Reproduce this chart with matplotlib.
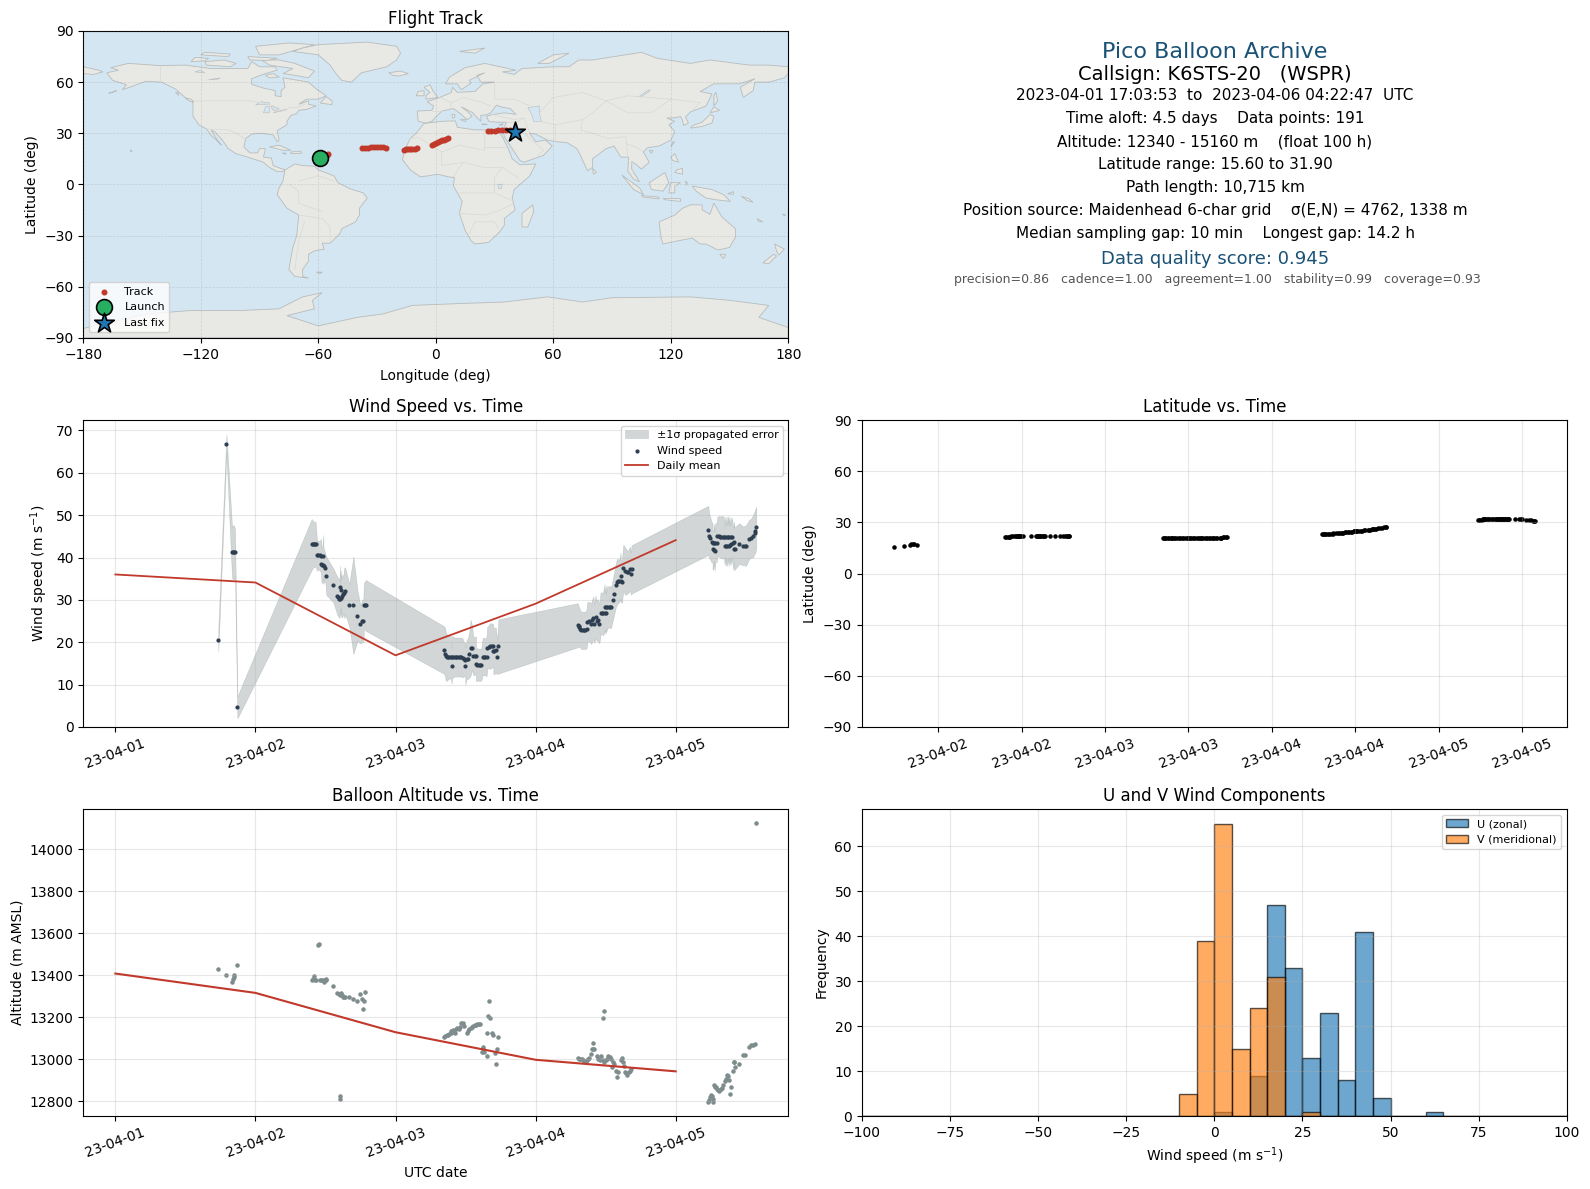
#!/usr/bin/env python3
# Pico balloon flight summary, K6STS-20
from datetime import datetime

import numpy as np
import matplotlib
matplotlib.use('Agg')
import matplotlib.pyplot as plt
import matplotlib.dates as mdates
from matplotlib.patches import Polygon

# ---- flight data, time in days after 2023-04-01 00:00 ----
wind_t = [0.735, 0.793, 0.833, 0.840, 0.847, 0.854, 0.871,
          1.402, 1.409, 1.416, 1.423, 1.430, 1.439, 1.449, 1.459, 1.468, 1.471,
          1.478, 1.485, 1.485, 1.492, 1.499, 1.506, 1.556, 1.585, 1.592, 1.599,
          1.606, 1.606, 1.613, 1.613, 1.620, 1.628, 1.635, 1.642, 1.670, 1.699,
          1.728, 1.749, 1.763, 1.770, 1.775, 1.782, 1.787,
          2.349, 2.356, 2.358, 2.365, 2.375, 2.384, 2.394, 2.401, 2.403, 2.413,
          2.422, 2.432, 2.441, 2.451, 2.460, 2.470, 2.479, 2.489, 2.498, 2.498,
          2.508, 2.517, 2.527, 2.536, 2.546, 2.555, 2.565, 2.574, 2.574, 2.584,
          2.593, 2.603, 2.612, 2.622, 2.631, 2.641, 2.650, 2.655, 2.665, 2.674,
          2.688, 2.698, 2.698, 2.705, 2.715, 2.727, 2.734,
          3.300, 3.307, 3.312, 3.319, 3.326, 3.336, 3.345, 3.355, 3.364, 3.369,
          3.383, 3.397, 3.405, 3.412, 3.419, 3.428, 3.436, 3.445, 3.455, 3.464,
          3.474, 3.483, 3.493, 3.493, 3.502, 3.502, 3.512, 3.521, 3.531, 3.540,
          3.550, 3.559, 3.573, 3.581, 3.588, 3.597, 3.607, 3.607, 3.616, 3.626,
          3.638, 3.650, 3.661, 3.673, 3.681, 3.685,
          4.232, 4.240, 4.247, 4.256, 4.263, 4.263, 4.270, 4.273, 4.278, 4.282,
          4.292, 4.297, 4.306, 4.316, 4.325, 4.335, 4.344, 4.349, 4.354, 4.358,
          4.363, 4.368, 4.373, 4.378, 4.382, 4.387, 4.392, 4.397, 4.401, 4.406,
          4.413, 4.416, 4.420, 4.454, 4.478, 4.492, 4.501, 4.525, 4.539, 4.551,
          4.563, 4.568, 4.575]

wind_speed = [20.6, 66.9, 41.2, 41.2, 41.2, 41.2, 4.6,
              43.1, 43.1, 43.1, 43.1, 43.1, 40.5, 40.5, 40.5, 40.4, 38.4,
              38.3, 40.3, 38.2, 38.0, 37.6, 35.7, 33.4, 30.9, 30.6, 30.2,
              33.1, 30.1, 32.4, 30.4, 30.9, 31.3, 31.7, 32.0, 28.7, 28.7,
              26.3, 24.2, 25.1, 25.1, 28.7, 28.7, 28.7,
              18.1, 17.3, 16.7, 16.4, 16.4, 16.4, 16.5, 14.4, 16.5, 16.5,
              16.5, 16.5, 16.5, 16.5, 16.5, 16.5, 16.3, 16.0, 15.8, 14.4,
              16.0, 16.1, 17.1, 18.7, 18.7, 16.8, 16.8, 16.8, 14.8, 14.7,
              14.7, 14.7, 14.7, 16.6, 16.6, 16.6, 16.6, 18.7, 18.9, 19.1,
              19.2, 19.2, 18.0, 17.9, 18.1, 16.5, 19.0,
              24.0, 23.8, 23.5, 23.1, 22.8, 22.8, 22.8, 22.8, 23.2, 24.7,
              24.9, 24.4, 25.2, 25.8, 24.4, 26.0, 25.0, 25.2, 24.4, 26.8,
              26.8, 26.8, 28.3, 26.8, 28.3, 26.8, 28.3, 28.3, 28.3, 28.3,
              29.9, 31.3, 33.5, 34.3, 34.4, 34.5, 35.7, 34.5, 34.3, 37.6,
              36.8, 36.6, 36.6, 37.4, 36.2, 37.2,
              46.4, 45.0, 44.5, 43.6, 43.5, 41.9, 41.7, 43.5, 41.6, 43.5,
              43.5, 45.0, 45.0, 44.9, 44.8, 44.8, 44.8, 42.8, 44.8, 42.8,
              44.8, 42.8, 44.8, 42.8, 44.8, 42.9, 44.8, 43.1, 44.8, 43.4,
              41.9, 43.7, 42.1, 43.3, 42.8, 42.8, 42.8, 44.3, 44.6, 45.0,
              45.9, 46.2, 47.1]

wind_err = [2.8, 2.2, 6.0, 6.4, 6.4, 5.5, 2.6,
            6.0, 5.6, 5.4, 5.3, 5.3, 3.6, 3.4, 3.4, 4.0, 4.0,
            4.4, 5.0, 4.4, 3.6, 3.3, 4.5, 4.0, 4.5, 4.5, 4.5,
            5.0, 4.0, 4.5, 4.5, 5.0, 4.5, 6.0, 5.5, 5.0, 11.5,
            6.0, 4.5, 5.0, 5.0, 5.5, 5.5, 6.0,
            5.6, 5.8, 5.8, 5.5, 5.2, 5.0, 5.0, 4.2, 5.0, 4.8,
            4.6, 4.6, 4.6, 4.6, 4.6, 4.6, 4.6, 4.0, 4.0, 4.4,
            4.6, 4.8, 5.4, 6.6, 5.2, 4.6, 4.4, 4.6, 4.0, 3.8,
            3.8, 3.8, 3.8, 4.4, 4.4, 4.4, 4.6, 5.0, 5.0, 5.4,
            5.2, 5.0, 5.6, 5.4, 5.4, 4.0, 6.4,
            5.2, 4.8, 4.6, 4.4, 4.4, 4.4, 4.4, 4.4, 4.6, 4.8,
            4.6, 4.8, 5.0, 5.0, 4.6, 5.0, 4.6, 5.0, 4.6, 5.0,
            4.8, 5.2, 5.4, 4.8, 5.0, 4.6, 5.0, 4.8, 5.0, 4.8,
            4.8, 5.0, 5.2, 5.4, 5.2, 5.0, 5.4, 5.0, 5.0, 5.4,
            5.6, 5.2, 5.0, 5.2, 5.0, 5.7,
            5.8, 5.2, 5.0, 4.8, 4.6, 4.6, 4.6, 4.4, 4.6, 4.6,
            4.6, 4.6, 4.8, 4.8, 5.0, 5.0, 4.8, 4.6, 4.8, 4.8,
            5.0, 4.8, 5.0, 4.8, 4.8, 4.6, 4.8, 4.8, 4.6, 4.8,
            5.0, 4.8, 5.0, 4.8, 4.6, 4.6, 4.8, 4.6, 4.6, 5.0,
            5.0, 5.2, 4.8]

lat_deg = [15.6, 16.4, 17.0, 17.2, 17.2, 17.1, 17.0,
           21.4, 21.5, 21.6, 21.7, 21.7, 21.8, 21.9, 21.9, 22.0, 22.0,
           21.9, 22.0, 21.9, 22.0, 22.0, 21.9, 21.9, 21.9, 22.0, 22.0,
           22.0, 22.0, 21.9, 21.9, 21.9, 21.9, 21.9, 21.8, 21.8, 21.8,
           21.9, 21.8, 21.9, 21.9, 21.9, 21.9, 21.8,
           20.9, 20.9, 20.8, 20.8, 20.8, 20.7, 20.7, 20.7, 20.7, 20.7,
           20.7, 20.7, 20.7, 20.7, 20.7, 20.7, 20.7, 20.7, 20.7, 20.7,
           20.7, 20.7, 20.7, 20.7, 20.7, 20.7, 20.7, 20.7, 20.7, 20.7,
           20.7, 20.8, 20.8, 20.8, 20.8, 20.8, 20.8, 20.8, 20.9, 20.9,
           20.9, 21.0, 21.0, 21.2, 21.4, 21.5, 21.5,
           22.9, 23.0, 23.0, 23.1, 23.1, 23.2, 23.3, 23.4, 23.4, 23.5,
           23.6, 23.7, 23.8, 23.8, 23.9, 24.0, 24.1, 24.2, 24.3, 24.4,
           24.5, 24.6, 24.7, 24.7, 24.8, 24.8, 24.9, 25.0, 25.1, 25.2,
           25.3, 25.5, 25.6, 25.7, 25.8, 25.9, 26.1, 26.1, 26.2, 26.3,
           26.5, 26.6, 26.8, 27.0, 27.1, 27.2,
           31.2, 31.4, 31.5, 31.6, 31.7, 31.7, 31.7, 31.8, 31.8, 31.8,
           31.8, 31.8, 31.9, 31.9, 31.9, 31.9, 31.9, 31.9, 31.9, 31.9,
           31.9, 31.9, 31.9, 31.9, 31.9, 31.9, 31.9, 31.9, 31.9, 31.9,
           31.9, 31.9, 31.8, 31.8, 31.7, 31.7, 31.7, 31.5, 31.4, 31.1,
           31.0, 31.0, 31.0]

alt_t = [0.735, 0.793, 0.835, 0.840, 0.845, 0.850, 0.871,
         1.402, 1.409, 1.416, 1.423, 1.430, 1.444, 1.451, 1.461, 1.471, 1.480,
         1.490, 1.494, 1.501, 1.506, 1.556, 1.585, 1.594, 1.601, 1.606, 1.606,
         1.613, 1.620, 1.628, 1.635, 1.642, 1.670, 1.699, 1.728, 1.749, 1.763,
         1.770, 1.777, 1.785,
         2.349, 2.356, 2.365, 2.374, 2.384, 2.393, 2.398, 2.408, 2.417, 2.427,
         2.432, 2.441, 2.451, 2.460, 2.470, 2.479, 2.489, 2.512, 2.517, 2.527,
         2.536, 2.546, 2.555, 2.565, 2.574, 2.584, 2.593, 2.603, 2.615, 2.622,
         2.627, 2.634, 2.650, 2.655, 2.662, 2.669, 2.674, 2.686, 2.698, 2.710,
         2.719, 2.727, 2.734,
         3.300, 3.309, 3.319, 3.328, 3.338, 3.347, 3.357, 3.364, 3.374, 3.383,
         3.393, 3.400, 3.407, 3.412, 3.416, 3.435, 3.447, 3.459, 3.469, 3.478,
         3.483, 3.488, 3.490, 3.500, 3.509, 3.519, 3.528, 3.538, 3.542, 3.550,
         3.559, 3.573, 3.583, 3.590, 3.607, 3.614, 3.621, 3.628, 3.635, 3.645,
         3.654, 3.664, 3.673, 3.683,
         4.232, 4.240, 4.244, 4.251, 4.261, 4.268, 4.268, 4.275, 4.282, 4.287,
         4.292, 4.301, 4.311, 4.320, 4.328, 4.340, 4.351, 4.358, 4.363, 4.370,
         4.380, 4.389, 4.397, 4.406, 4.416, 4.418, 4.425, 4.454, 4.482, 4.494,
         4.525, 4.539, 4.554, 4.566, 4.575]

alt_m = [13429, 13400, 13367, 13383, 13392, 13400, 13448,
         13376, 13384, 13397, 13376, 13376, 13543, 13549, 13376, 13376, 13376,
         13370, 13378, 13384, 13378, 13348, 13317, 13313, 13308, 12825, 12813,
         13317, 13308, 13295, 13295, 13295, 13295, 13286, 13276, 13310, 13286,
         13238, 13276, 13319,
         13106, 13110, 13114, 13117, 13119, 13124, 13133, 13138, 13130, 13124,
         13146, 13148, 13143, 13152, 13175, 13171, 13159, 13127, 13136, 13143,
         13148, 13156, 13159, 13162, 13165, 13167, 13168, 13170, 13035, 13048,
         13060, 13035, 13016, 13124, 13206, 13276, 13197, 13124, 13117, 13032,
         12976, 13048, 13105,
         13006, 13003, 13000, 13003, 12995, 12992, 12987, 12995, 13003, 13006,
         13026, 13047, 13050, 13079, 13050, 13015, 13003, 12995, 13015, 12995,
         13197, 12987, 13231, 12995, 13003, 13015, 13009, 13003, 12963, 12987,
         12979, 12946, 12916, 12939, 12995, 13006, 12987, 12968, 12939, 12936,
         12927, 12939, 12947, 12952,
         12798, 12805, 12821, 12829, 12824, 12810, 12797, 12876, 12868, 12867,
         12860, 12852, 12848, 12857, 12863, 12879, 12895, 12908, 12927, 12920,
         12900, 12836, 12870, 12946, 12987, 12987, 12962, 12979, 13019, 13023,
         13058, 13066, 13069, 13074, 14123]

# daily means at 00 UTC of each date
mean_days = [0, 1, 2, 3, 4]
mean_wind = [36.0, 34.1, 16.9, 29.1, 44.1]
mean_alt = [13408, 13316, 13129, 12998, 12943]

# histogram counts, 5 m/s bins from -100 to 100
bin_edges = list(range(-100, 105, 5))
u_counts = [0] * 20 + [1, 0, 9, 47, 33, 13, 23, 8, 41, 4, 0, 0, 1, 0] + [0] * 6
v_counts = [0] * 18 + [5, 39, 65, 15, 24, 31, 0, 1] + [0] * 14

# ground track
track_lon = [-55.5, -55.0, -37.5, -36.0, -34.5, -33.0, -31.5, -30.0, -28.5, -27.0,
             -25.6, -16.0, -15.0, -14.0, -13.0, -12.0, -10.5, -9.5, -2.0, -1.0,
             0.0, 1.0, 2.0, 3.0, 4.0, 5.0, 6.3, 26.6, 28.0, 30.0, 32.0, 34.0,
             36.0, 38.0, 40.0]
track_lat = [17.2, 17.6, 21.4, 21.5, 21.6, 21.8, 22.0, 22.1, 22.0, 21.8,
             21.6, 20.4, 20.5, 20.6, 20.7, 20.8, 21.0, 21.2, 23.0, 23.6,
             24.2, 24.8, 25.2, 25.8, 26.3, 26.8, 27.4, 31.2, 31.4, 31.6, 31.8, 31.9,
             31.9, 31.8, 31.2]
launch = (-58.9, 15.6)
last_fix = (40.4, 30.5)

# ---- coastlines, lon/lat ----
land = [
    # North America
    [(-168, 65.5), (-162, 67), (-166, 68.5), (-157, 71), (-141, 69.7), (-128, 70), (-115, 68),
     (-108, 68), (-96, 68), (-94, 72), (-90, 69), (-82, 69), (-81, 67), (-87, 65), (-94, 62),
     (-94, 58.7), (-88, 56.5), (-82, 55), (-82, 52), (-79, 51.5), (-79, 55), (-77, 57), (-78, 62.5),
     (-70, 61), (-65, 60), (-61, 56), (-56, 52), (-60, 50), (-66, 50), (-70, 47), (-65, 49), (-65, 47),
     (-61, 46), (-66, 44), (-70, 43.5), (-71, 41.5), (-74, 40.5), (-76, 37), (-76, 35), (-81, 31.5),
     (-80, 26), (-81, 25), (-83, 29), (-89, 30), (-94, 29.5), (-97, 27), (-98, 22), (-95, 18.5),
     (-91, 18.5), (-90, 21), (-87, 21), (-88, 16), (-84, 15.5), (-83, 11), (-79.5, 9.5), (-77, 8.5),
     (-78, 7.5), (-81, 7.5), (-85, 10), (-88, 13), (-92, 14.5), (-96, 16), (-102, 18), (-106, 21),
     (-109, 26), (-113, 31), (-114.8, 31.7), (-111, 25), (-109.5, 23), (-112, 26), (-115, 29),
     (-117, 32.5), (-121, 35), (-124, 40), (-124, 48), (-128, 51), (-133, 56), (-140, 60),
     (-148, 60.5), (-154, 58), (-160, 55.5), (-158, 58.5), (-165, 61)],
    [(-80, 73), (-72, 71), (-62, 66.5), (-65, 62.5), (-72, 64), (-78, 65), (-73, 68), (-85, 70), (-89, 73)],
    [(-117, 70), (-105, 69), (-102, 71), (-108, 73), (-118, 72)],
    [(-90, 76), (-80, 76), (-62, 82), (-75, 83), (-92, 81)],
    [(-125, 72), (-118, 72.5), (-116, 74), (-123, 74.5)],
    [(-96, 75), (-81, 74), (-86, 72.7), (-95, 73)],
    [(-120, 76), (-106, 75), (-105, 76.5), (-118, 77.5)],
    [(-83, 65), (-80, 63), (-85, 62.5), (-87, 64)],
    [(-59, 47.7), (-53, 46.8), (-53, 49), (-56, 51.5)],
    [(-85, 22), (-80, 23), (-74, 20), (-78, 20)],
    [(-74, 19), (-69, 19.5), (-68.5, 18.3), (-74, 18)],
    [(-78.3, 18.4), (-76.3, 18.2), (-77, 17.8)],
    [(-156, 20.2), (-155, 19.7), (-155.7, 19)],
    [(-128, 50.7), (-125, 50), (-123.5, 48.4), (-125.5, 48.8)],
    [(-133, 54), (-131.5, 54), (-131.5, 52.5)],
    [(-167, 53.5), (-163, 55), (-165, 54)],
    # Greenland, Iceland
    [(-73, 78), (-60, 76), (-54, 70), (-51, 65), (-48, 61), (-43, 60), (-38, 65.5), (-25, 69),
     (-20, 73), (-18, 77), (-20, 81), (-35, 83.5), (-60, 82), (-68, 80)],
    [(-24, 65.5), (-18, 66.5), (-14, 65), (-19, 63.5), (-22, 64)],
    # South America
    [(-77, 8.5), (-72, 12), (-68, 11), (-62, 10.7), (-60, 8.5), (-52, 5), (-50, 1), (-44, -2.5), (-37, -5),
     (-35, -8), (-39, -14), (-39, -18), (-41, -22), (-48, -26), (-49, -29), (-54, -34.5), (-58, -34.5),
     (-57, -38), (-62, -39), (-65, -41), (-65, -45), (-68, -50), (-68, -54), (-65, -55), (-72, -54),
     (-75, -50), (-74, -43), (-73, -37), (-71, -30), (-70, -18), (-76, -14), (-81, -6), (-80, -2), (-78, 2)],
    [(-61, -51.5), (-58, -51.5), (-59, -52.3)],
    # Africa
    [(-6, 35.8), (3, 37), (10, 37.3), (11, 33.5), (20, 32), (25, 32), (32, 31), (34, 28), (37, 21),
     (39, 15), (43, 11.5), (51, 12), (48, 5), (40, -3), (39, -8), (40.5, -15), (35, -20), (35, -24),
     (32.5, -28), (27, -34), (20, -35), (18, -33), (15, -27), (12, -17), (13.5, -10), (9, -1), (9.5, 4),
     (6, 4.5), (1, 6), (-4, 5), (-8, 4.5), (-13, 8.5), (-17, 14.5), (-16, 20), (-13, 27), (-10, 30)],
    [(49.5, -12), (50, -16), (47, -25), (44, -25), (44, -17)],
    # Eurasia
    [(-9, 37), (-9.5, 43), (-2, 43.5), (-1, 46), (-4.5, 48.5), (2, 51), (8, 54), (8.5, 57), (11, 54),
     (20, 54.5), (24, 59), (30, 60), (23, 60), (21, 64), (25, 65.5), (17, 61), (18, 59.5), (13, 55.5),
     (11, 59), (5, 59), (7, 63), (15, 68.5), (25, 71), (41, 67), (34, 66), (40, 64.5), (44, 68), (60, 69),
     (68, 69), (73, 73), (80, 73), (105, 77.5), (113, 74), (130, 71), (140, 73), (160, 70), (170, 70),
     (180, 69), (180, 65), (178, 62.5), (170, 60), (163, 60), (162, 55), (157, 51), (155.5, 57), (163, 62),
     (155, 59), (142, 59), (135, 54.5), (141, 53), (138, 46), (130, 42.5), (127.5, 39.5), (129, 36),
     (126.5, 34.5), (126, 37.5), (125, 39.8), (121, 39), (118, 39), (122, 37), (119, 35), (122, 31),
     (120, 26), (114, 22.5), (108, 21.5), (106, 19), (109, 13), (105, 9), (103, 11), (100, 13.5), (100, 9),
     (104, 1.5), (101, 3), (98, 8), (98.5, 16), (94.5, 16), (91, 22.5), (87, 21), (80, 15), (80, 10),
     (77.5, 8), (73, 19), (72, 21), (67, 24.5), (62, 25), (57, 26), (51, 29.5), (48, 30), (51, 25), (56, 26),
     (59.5, 22.5), (55, 17), (45, 13), (43, 14), (39, 21), (35, 28), (34.5, 31.5), (36, 36.5), (31, 36.5),
     (27, 37), (26, 40), (29, 41), (35, 42), (41, 41), (38, 44.5), (33, 45.5), (31, 46.5), (28, 42),
     (26, 40.8), (23, 40.5), (23, 37), (19.5, 41), (19, 42), (13, 45.5), (16, 43), (18.5, 40), (16, 38),
     (12, 42), (9, 44.5), (3, 43), (0, 39.5), (-2, 37), (-5, 36)],
    [(-180, 69), (-172, 67), (-170, 66), (-175, 64.5), (-180, 65)],
    [(-5, 50), (1, 51), (-1.5, 55), (-3, 58.5), (-6, 57), (-3, 54), (-5, 52)],
    [(-10, 52), (-6, 52), (-6, 55), (-9, 54.5)],
    [(12, 78), (25, 80), (20, 77)],
    [(52, 71), (58, 71), (68, 77), (60, 76)],
    [(130, 33), (136, 34), (141, 36), (142, 40), (140, 41), (136, 36.5), (131, 34.5)],
    [(140, 42), (145, 43.5), (142, 45.5)],
    [(142, 46), (144, 49), (143, 54), (142, 52)],
    [(120, 22), (122, 25), (121, 25)],
    [(109, 20), (111, 19.8), (110, 18.3)],
    [(120, 16), (122, 18), (124, 13), (121, 14)],
    [(122, 7), (126, 6), (126, 9.5), (123, 8.5)],
    [(109, 1), (117, 7), (119, 1), (116, -4), (110, -3)],
    [(95, 5.5), (104, -2), (106, -6), (101, -3)],
    [(105, -6.5), (114, -7.5), (114, -8.5), (106, -7.5)],
    [(116, -8.2), (125, -8.4), (125, -10), (117, -9)],
    [(120, 1), (125, 1), (122, -1), (122, -5), (119, -5)],
    [(127.5, 2), (128.5, 1), (128, -0.5)],
    [(131, -1), (141, -3), (147, -6), (150.5, -10), (143, -9), (138, -8), (133, -4)],
    [(149, -5.5), (152, -4.2), (152, -5.8)],
    [(156, -7), (160, -8.5), (162, -10.5), (159, -9.5)],
    [(164, -20), (167, -22), (165, -21.8)],
    [(177, -17.5), (178.6, -17.8), (178, -18.5)],
    [(80, 9.5), (82, 7), (80.5, 6)],
    [(8.2, 41), (9.8, 41), (9.5, 39), (8.5, 39)],
    [(12.5, 38), (15.5, 38), (15, 36.8)],
    [(23.5, 35.5), (26.3, 35.2), (24, 35)],
    [(32.3, 35), (34.5, 35.6), (33.5, 34.6)],
    # Australia and New Zealand
    [(114, -22), (122, -18), (126, -14), (130, -12), (136, -12), (136, -15), (140, -17.5), (142, -11),
     (146, -19), (153, -26), (153, -31), (150, -37), (144, -38.5), (138, -35), (135, -35), (131, -31.5),
     (124, -33), (116, -35), (115, -31)],
    [(145, -41), (148, -41), (147, -43.5)],
    [(173, -35), (178, -38), (175, -41.5), (174, -39)],
    [(172.5, -41), (174, -42), (170, -46.5), (167, -46)],
    # Antarctica
    [(-180, -84.5), (-155, -78), (-148, -76), (-125, -74), (-100, -74), (-80, -73), (-75, -70), (-68, -66),
     (-58, -63.5), (-63, -68), (-62, -73), (-76, -77), (-60, -83), (-40, -78), (-27, -76), (-12, -71),
     (10, -70), (35, -69), (57, -66), (75, -69), (90, -66.5), (130, -66), (150, -68), (170, -71), (165, -78),
     (180, -84), (180, -90), (-180, -90)],
]

lakes = [
    [(47, 45), (53, 46), (53, 41), (54, 37), (50, 37), (49, 41)],
    [(-92, 46.8), (-85, 47), (-85, 48), (-89, 48.5)],
    [(-88, 42), (-85, 42), (-85, 46), (-87, 45.5)],
    [(-84, 46), (-80, 44.5), (-82, 43), (-83.5, 44)],
    [(-83, 42), (-79, 43), (-76, 44), (-79, 43.5)],
    [(-123, 66), (-118, 65.5), (-120, 67)],
    [(-116, 61.5), (-110, 62.5), (-112, 61.5)],
    [(103.7, 51.5), (109, 55.5), (109.5, 55), (105, 51.5)],
    [(31.8, 0), (34, 0.2), (33.5, -2.5), (32, -2.5)],
]

borders = [
    [(-123, 49), (-95, 49), (-89, 48), (-83, 46), (-82, 43), (-79, 43), (-75, 45), (-71, 45), (-67, 47)],
    [(-141, 69.7), (-141, 60)],
    [(-117, 32.5), (-106, 32), (-101, 29.5), (-97, 26)],
    [(-70, -18), (-58, -20), (-54, -25), (-54, -34)],
    [(-72, -50), (-70, -33), (-67, -22)],
    [(-75, 0), (-70, -4), (-70, -11), (-58, -16)],
    [(-70, 2), (-60, 5), (-52, 2)],
    [(-13, 27), (-8.7, 27.5), (3, 19), (12, 23), (25, 20), (25, 32)],
    [(25, 22), (37, 22)],
    [(3, 19), (3, 11), (14, 13), (24, 10), (34, 10), (42, 4)],
    [(14, 13), (9, 4.5)],
    [(12, -5), (30, -5), (40, -10)],
    [(30, -5), (30, 4), (34, 10)],
    [(12, -17), (25, -18), (33, -15), (40, -11)],
    [(17, -29), (20, -22), (30, -22), (32, -26)],
    [(29, 41), (40, 38), (45, 39), (48, 30)],
    [(36, 36), (42, 37), (45, 39)],
    [(28, 46), (24, 48), (14, 51), (8, 48), (7, 44)],
    [(2, 51), (8, 48)],
    [(-2, 43), (3, 43)],
    [(30, 60), (30, 50), (40, 50), (48, 46)],
    [(53, 42), (60, 51), (75, 54), (87, 49), (98, 52), (120, 50), (135, 48), (131, 43)],
    [(87, 49), (80, 42), (75, 38), (61, 35), (61, 25)],
    [(75, 38), (74, 32), (80, 30), (88, 27), (97, 28), (98, 16)],
    [(87, 49), (98, 42), (110, 42), (120, 50)],
    [(61, 35), (53, 37)],
    [(101, 6), (100, 13)],
    [(106, 19), (102, 22), (97, 24)],
    [(46, 29), (55, 20), (52, 17)],
    [(34.5, 31), (40, 32), (47, 29)],
]

info_lines = [
    ('Pico Balloon Archive', 16, '#1a5276', 0.9375),
    ('Callsign: K6STS-20   (WSPR)', 14, 'black', 0.865),
    ('2023-04-01 17:03:53  to  2023-04-06 04:22:47  UTC', 11, 'black', 0.795),
    ('Time aloft: 4.5 days    Data points: 191', 11, 'black', 0.72),
    ('Altitude: 12340 - 15160 m    (float 100 h)', 11, 'black', 0.645),
    ('Latitude range: 15.60 to 31.90', 11, 'black', 0.57),
    ('Path length: 10,715 km', 11, 'black', 0.495),
    ('Position source: Maidenhead 6-char grid    \u03c3(E,N) = 4762, 1338 m', 11, 'black', 0.42),
    ('Median sampling gap: 10 min    Longest gap: 14.2 h', 11, 'black', 0.345),
    ('Data quality score: 0.945', 13, '#1a5276', 0.262),
    ('precision=0.86   cadence=1.00   agreement=1.00   stability=0.99   coverage=0.93', 9, '#555555', 0.197),
]

RED = '#c0392b'
NAVY = '#2c3e50'
GREY = '#7f8c8d'

start = mdates.date2num(datetime(2023, 4, 1))
wind_x = start + np.array(wind_t)
alt_x = start + np.array(alt_t)
mean_x = start + np.array(mean_days)
wind_v = np.array(wind_speed)
wind_e = np.array(wind_err)

fig, axes = plt.subplots(3, 2, figsize=(15.9, 11.89), dpi=100)
fig.subplots_adjust(left=83.3 / 1590, right=1566.8 / 1590, top=1 - 31 / 1189, bottom=1 - 1116 / 1189,
                    hspace=82.5 / 307.5, wspace=73.5 / 705)

# flight track map
ax = axes[0, 0]
ax.set_facecolor('#d4e6f1')
for poly in land:
    ax.add_patch(Polygon(poly, closed=True, facecolor='#e8e8e4', edgecolor='#b8bcbc', lw=0.6, zorder=1))
for poly in lakes:
    ax.add_patch(Polygon(poly, closed=True, facecolor='#d4e6f1', edgecolor='#b8bcbc', lw=0.4, zorder=1.1))
for line in borders:
    ax.plot(*zip(*line), color='#d8d8d4', lw=0.5, zorder=1.2)
ax.grid(True, alpha=0.2, lw=0.5, ls='--', color='#707070', zorder=1.5)
ax.set_axisbelow(False)
ax.scatter(track_lon, track_lat, s=11, color=RED, zorder=3, label='Track')
ax.scatter(*launch, s=130, color='#27ae60', edgecolor='black', lw=1.2, zorder=4, label='Launch')
ax.scatter(*last_fix, s=220, marker='*', color='#1f77b4', edgecolor='black', lw=1.2, zorder=5, label='Last fix')
ax.set_xlim(-180, 180)
ax.set_ylim(-90, 90)
ax.set_xticks(range(-180, 181, 60))
ax.set_yticks(range(-90, 91, 30))
ax.set_xlabel('Longitude (deg)', labelpad=5.5)
ax.set_ylabel('Latitude (deg)')
ax.set_title('Flight Track', pad=4.8)
ax.legend(loc='lower left', fontsize=8)

# summary text
ax = axes[0, 1]
ax.axis('off')
for text, size, colour, y in info_lines:
    x = 0.505 if size == 9 else 0.501
    ax.text(x, y - 0.0065, text, fontsize=size, color=colour, ha='center', va='center', transform=ax.transAxes)

# wind speed
ax = axes[1, 0]
ax.fill_between(wind_x, wind_v - wind_e, wind_v + wind_e, color=GREY, alpha=0.35, lw=0.4,
                label='\u00b11\u03c3 propagated error')
ax.scatter(wind_x, wind_v, s=4, color=NAVY, zorder=3, label='Wind speed')
ax.plot(mean_x, mean_wind, color=RED, lw=1.3, zorder=4, label='Daily mean')
ax.set_ylim(bottom=0)
ax.set_ylabel('Wind speed (m s$^{-1}$)')
ax.set_title('Wind Speed vs. Time')
ax.legend(loc='upper right', fontsize=8)

# latitude
ax = axes[1, 1]
ax.scatter(wind_x, lat_deg, s=5, color='black')
ax.set_ylim(-90, 90)
ax.set_yticks(range(-90, 91, 30))
ax.set_ylabel('Latitude (deg)')
ax.set_title('Latitude vs. Time')

# altitude
ax = axes[2, 0]
ax.scatter(alt_x, alt_m, s=5, color=GREY)
ax.plot(mean_x, mean_alt, color=RED, lw=1.5)
ax.set_xlabel('UTC date')
ax.set_ylabel('Altitude (m AMSL)')
ax.set_title('Balloon Altitude vs. Time')

for ax, locator in ((axes[1, 0], mdates.DayLocator()),
                    (axes[1, 1], mdates.HourLocator(byhour=[0, 12])),
                    (axes[2, 0], mdates.DayLocator())):
    ax.xaxis.set_major_locator(locator)
    ax.xaxis.set_major_formatter(mdates.DateFormatter('%y-%m-%d'))
    ax.tick_params(axis='x', rotation=20)
    ax.grid(True, alpha=0.3)

# wind components
ax = axes[2, 1]
ax.bar(bin_edges[:-1], u_counts, width=5, align='edge', color='#1f77b4', alpha=0.65, edgecolor='black', label='U (zonal)')
ax.bar(bin_edges[:-1], v_counts, width=5, align='edge', color='#ff7f0e', alpha=0.65, edgecolor='black', label='V (meridional)')
ax.set_xlim(-100, 100)
ax.set_xlabel('Wind speed (m s$^{-1}$)')
ax.set_ylabel('Frequency')
ax.set_title('U and V Wind Components')
ax.grid(True, alpha=0.3)
ax.legend(loc='upper right', fontsize=8)

fig.savefig('out.png', dpi=100)
